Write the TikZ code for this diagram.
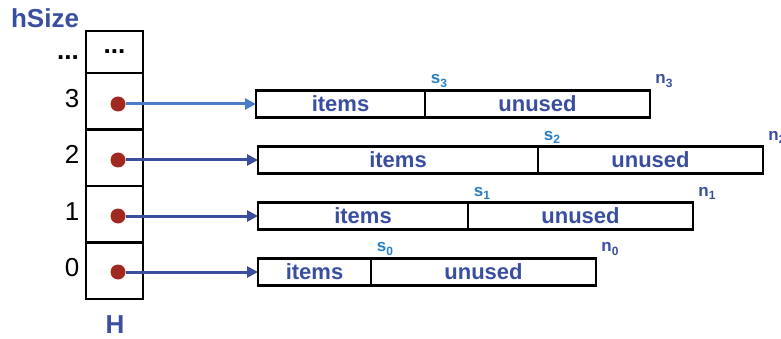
\documentclass[tikz,border=0pt]{standalone}
\usepackage{fontspec}
\setmainfont{Liberation Sans}
\usepackage{xcolor}
\usepackage{tikz}
\usetikzlibrary{arrows.meta,positioning,calc}

\definecolor{hblue}{RGB}{58,78,160}
\definecolor{lblue}{RGB}{74,124,200}
\definecolor{sblue}{RGB}{36,128,200}
\definecolor{dotred}{RGB}{160,40,30}

% letter with a subscript, as on the bounds
\newcommand{\bnd}[2]{#1\raisebox{-0.35ex}{\fontsize{12}{14}\selectfont #2}}

\tikzset{
  cell/.style={draw=black, line width=2.5pt, minimum width=57pt, inner sep=0pt, outer sep=0pt},
  seg/.style={draw=black, line width=2.5pt, minimum height=27pt, inner sep=0pt, outer sep=0pt,
    font=\bfseries\fontsize{22}{26}\selectfont, text=hblue},
  dot/.style={circle, fill=dotred, minimum size=15pt, inner sep=0pt},
  idx/.style={font=\fontsize{26}{30}\selectfont, text=black},
  slabel/.style={font=\bfseries\fontsize{17}{20}\selectfont, text=sblue},
  nlabel/.style={font=\bfseries\fontsize{17}{20}\selectfont, text=hblue},
  title/.style={font=\bfseries\fontsize{26}{30}\selectfont, text=hblue},
  ptr/.style={line width=3pt, -{Triangle[length=11pt, width=11pt]}}
}

\begin{document}
\begin{tikzpicture}[x=1pt, y=-1pt]
\useasboundingbox (0,0) rectangle (781,339);

% Table H
\node[title] (hsize) at (45,18) {hSize};
\node[cell, minimum height=42pt, idx, anchor=north] (ctop) at (114.5,31) {\textbf{...}};
\node[idx] (itop) at (68,58) {\textbf{...}};
\foreach \i/\y in {3/101.25, 2/157.75, 1/214.25, 0/270.75} {
    \node[cell, minimum height=56.5pt] (c\i) at (114.5,\y) {};
    \node[idx] (i\i) at (72,\y-3) {\i};
}
\node[title] (hname) at (115,325) {H};

% Arrays with pointers
\foreach \i/\y/\l/\d/\r/\c in {3/104/256/425/650/lblue, 2/160/258/538/763/hblue,
                                 1/216/258/468/693/hblue, 0/272/258/371/596/hblue} {
    \pgfmathsetmacro\wi{\d-\l}
    \pgfmathsetmacro\wu{\r-\d}
    \node[seg, minimum width=\wi pt, anchor=west] (items\i) at (\l,\y) {items};
    \node[seg, minimum width=\wu pt, anchor=west] (unused\i) at (items\i.east) {unused};
    \node[slabel] (s\i) at (\d+14,\y-23) {\bnd{s}{\i}};
    \node[nlabel] (n\i) at (\r+14,\y-23) {\bnd{n}{\i}};
    \node[dot] (p\i) at (118,\y) {};
    \draw[ptr, draw=\c, fill=\c] (p\i) -- (items\i.west);
}
\end{tikzpicture}
\end{document}
